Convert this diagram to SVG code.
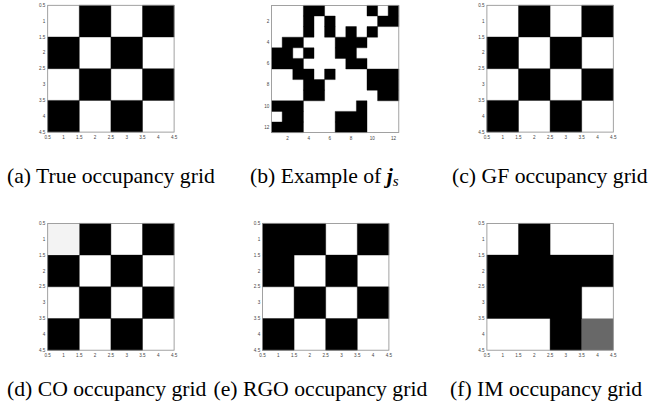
<svg xmlns="http://www.w3.org/2000/svg" xmlns:xlink="http://www.w3.org/1999/xlink" width="651" height="407" viewBox="0 0 651 407">
<style>
.bg{fill:#fff}
.blk{fill:#000;stroke:#000;stroke-width:0.4}
.box{fill:none;stroke:#8a8a8a;stroke-width:0.8}
.tk{font-family:"Liberation Sans",Arial,sans-serif;font-size:4.6px;fill:#444}
.ty{text-anchor:end}
.tx{text-anchor:middle}
.cap{font-family:"Liberation Serif","Times New Roman",serif;font-size:21.7px;fill:#000}
</style>
<defs>
<g id="ticks4">
<g class="tk ty">
<text x="-2.3" y="1.6">0.5</text><text x="-2.3" y="17.45">1</text><text x="-2.3" y="33.3">1.5</text><text x="-2.3" y="49.15">2</text><text x="-2.3" y="65">2.5</text><text x="-2.3" y="80.85">3</text><text x="-2.3" y="96.7">3.5</text><text x="-2.3" y="112.55">4</text><text x="-2.3" y="128.4">4.5</text>
</g>
<g class="tk tx">
<text x="0" y="133.4">0.5</text><text x="15.8" y="133.4">1</text><text x="31.6" y="133.4">1.5</text><text x="47.4" y="133.4">2</text><text x="63.2" y="133.4">2.5</text><text x="79" y="133.4">3</text><text x="94.8" y="133.4">3.5</text><text x="110.6" y="133.4">4</text><text x="126.4" y="133.4">4.5</text>
</g>
</g>
<g id="checker">
<rect class="bg" x="0" y="0" width="126.4" height="126.8"/>
<path class="blk" d="M31.6,0h31.6v31.7h-31.6zM94.8,0h31.6v31.7h-31.6zM0,31.7h31.6v31.7h-31.6zM63.2,31.7h31.6v31.7h-31.6zM31.6,63.4h31.6v31.7h-31.6zM94.8,63.4h31.6v31.7h-31.6zM0,95.1h31.6v31.7h-31.6zM63.2,95.1h31.6v31.7h-31.6z"/>
</g>
</defs>

<g id="panel-a" transform="translate(47.7,5.3)">
<use xlink:href="#checker"/>
<rect class="box" x="0" y="0" width="126.4" height="126.8"/>
<use xlink:href="#ticks4"/>
</g>

<g id="panel-b" transform="translate(271.6,5.4)">
<rect class="bg" x="0" y="0" width="127.2" height="127.2"/>
<path class="blk" d="M31.8,0h21.2v10.6h-21.2zM95.4,0h10.6v10.6h-10.6zM116.6,0h10.6v10.6h-10.6z
M31.8,10.6h10.6v10.6h-10.6zM53,10.6h10.6v10.6h-10.6zM106,10.6h21.2v10.6h-21.2z
M31.8,21.2h10.6v10.6h-10.6zM53,21.2h10.6v10.6h-10.6zM74.2,21.2h10.6v10.6h-10.6zM95.4,21.2h10.6v10.6h-10.6z
M10.6,31.8h21.2v10.6h-21.2zM63.6,31.8h31.8v10.6h-31.8z
M0,42.4h21.2v10.6h-21.2zM31.8,42.4h10.6v10.6h-10.6zM63.6,42.4h21.2v10.6h-21.2z
M0,53h31.8v10.6h-31.8zM74.2,53h21.2v10.6h-21.2z
M21.2,63.6h21.2v10.6h-21.2zM53,63.6h10.6v10.6h-10.6zM95.4,63.6h31.8v10.6h-31.8z
M31.8,74.2h21.2v10.6h-21.2zM95.4,74.2h31.8v10.6h-31.8z
M31.8,84.8h21.2v10.6h-21.2zM106,84.8h21.2v10.6h-21.2z
M0,95.4h31.8v10.6h-31.8zM84.8,95.4h10.6v10.6h-10.6z
M10.6,106h21.2v10.6h-21.2zM63.6,106h31.8v10.6h-31.8z
M0,116.6h31.8v10.6h-31.8zM63.6,116.6h31.8v10.6h-31.8z"/>
<rect class="box" x="0" y="0" width="127.2" height="127.2"/>
<g class="tk ty">
<text x="-2.3" y="17.5">2</text><text x="-2.3" y="38.7">4</text><text x="-2.3" y="59.9">6</text><text x="-2.3" y="81.1">8</text><text x="-2.3" y="102.3">10</text><text x="-2.3" y="123.5">12</text>
</g>
<g class="tk tx">
<text x="15.9" y="134.5">2</text><text x="37.1" y="134.5">4</text><text x="58.3" y="134.5">6</text><text x="79.5" y="134.5">8</text><text x="100.7" y="134.5">10</text><text x="121.9" y="134.5">12</text>
</g>
</g>

<g id="panel-c" transform="translate(486.9,5.3)">
<use xlink:href="#checker"/>
<rect class="box" x="0" y="0" width="126.4" height="126.8"/>
<use xlink:href="#ticks4"/>
</g>

<g id="panel-d" transform="translate(47.7,223.4)">
<use xlink:href="#checker"/>
<rect x="0" y="0" width="31.6" height="31.7" fill="#f3f3f3"/>
<rect class="box" x="0" y="0" width="126.4" height="126.8"/>
<use xlink:href="#ticks4"/>
</g>

<g id="panel-e" transform="translate(262.5,223.4)">
<rect class="bg" x="0" y="0" width="126.4" height="126.8"/>
<path class="blk" d="M0,0h63.2v31.7h-63.2zM94.8,0h31.6v31.7h-31.6zM0,31.7h31.6v31.7h-31.6zM63.2,31.7h31.6v31.7h-31.6zM31.6,63.4h31.6v31.7h-31.6zM94.8,63.4h31.6v31.7h-31.6zM0,95.1h31.6v31.7h-31.6zM63.2,95.1h31.6v31.7h-31.6z"/>
<rect class="box" x="0" y="0" width="126.4" height="126.8"/>
<use xlink:href="#ticks4"/>
</g>

<g id="panel-f" transform="translate(486.9,223.4)">
<rect class="bg" x="0" y="0" width="126.4" height="126.8"/>
<path class="blk" d="M31.6,0h31.6v31.7h-31.6zM0,31.7h126.4v31.7h-126.4zM0,63.4h94.8v31.7h-94.8zM63.2,95.1h31.6v31.7h-31.6z"/>
<rect x="94.8" y="95.1" width="31.6" height="31.7" fill="#686868"/>
<rect class="box" x="0" y="0" width="126.4" height="126.8"/>
<use xlink:href="#ticks4"/>
</g>

<g id="captions" class="cap">
<text x="7" y="183.3">(a) True occupancy grid</text>
<text x="250" y="183.3">(b) Example of <tspan font-weight="bold" font-style="italic">j</tspan><tspan font-style="italic" font-size="15px" dy="3">s</tspan></text>
<text x="452" y="183.3">(c) GF occupancy grid</text>
<text x="7" y="396">(d) CO occupancy grid</text>
<text x="213.5" y="396">(e) RGO occupancy grid</text>
<text x="450" y="396">(f) IM occupancy grid</text>
</g>
</svg>
